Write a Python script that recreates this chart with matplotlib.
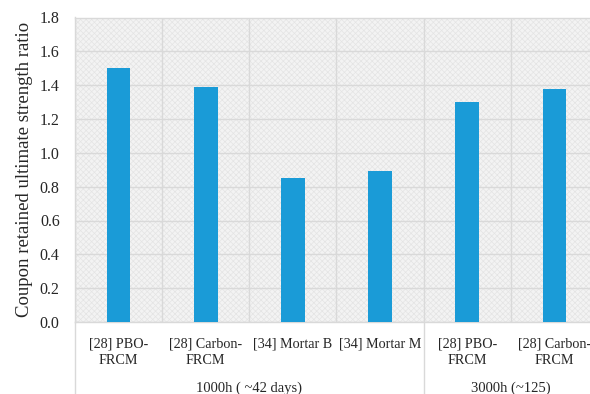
import matplotlib.pyplot as plt
import matplotlib.transforms as mtransforms
from matplotlib.patches import Rectangle
import numpy as np

plt.rcParams['font.family'] = ['Liberation Serif', 'DejaVu Serif']
plt.rcParams['hatch.linewidth'] = 0.5

labels = ['[28] PBO-\nFRCM', '[28] Carbon-\nFRCM', '[34] Mortar B',
          '[34] Mortar M', '[28] PBO-\nFRCM', '[28] Carbon-\nFRCM']
ratio = [1.50, 1.39, 0.85, 0.89, 1.30, 1.38]
groups = ['1000h ( ~42 days)', '3000h (~125)']
group_sizes = [4, 2]
yticks = [0.0, 0.2, 0.4, 0.6, 0.8, 1.0, 1.2, 1.4, 1.6, 1.8]

x = np.arange(len(labels))
grid_c = '#d9d9d9'
text_c = '#262626'

fig = plt.figure(figsize=(5.9, 3.94), dpi=100)
ax = fig.add_axes([75 / 590, 72 / 394, 523 / 590, 304.5 / 394])
ax.set_facecolor('#f3f3f3')
# light dotted background pattern
ax.add_patch(Rectangle((0, 0), 1, 1, transform=ax.transAxes, facecolor='none',
                       edgecolor='#e4e4e4', hatch='xxxxxx', lw=0, zorder=0))

ax.bar(x, ratio, width=0.27, color='#1a9bd7', zorder=3)

ax.set_xlim(-0.5, len(labels) - 0.5)
ax.set_ylim(0, 1.8)
ax.set_yticks(yticks)
ax.set_yticklabels([f'{v:.1f}' for v in yticks], fontsize=11.5, color=text_c)
ax.yaxis.grid(True, color=grid_c, lw=1, zorder=1)
ax.set_xticks(x)
ax.set_xticklabels(labels, fontsize=10.2, color=text_c, linespacing=1.4)
ax.set_xticks(np.arange(len(labels) + 1) - 0.5, minor=True)
ax.xaxis.grid(True, which='minor', color=grid_c, lw=1, zorder=1)
ax.tick_params(axis='both', which='both', length=0)
ax.tick_params(axis='x', pad=11)
ax.tick_params(axis='y', pad=11)
for s in ax.spines.values():
    s.set_color(grid_c)
    s.set_linewidth(1)
ax.set_axisbelow(True)

ax.set_ylabel('Coupon retained ultimate strength ratio', fontsize=13.5,
              color=text_c, labelpad=5)

# group labels and separators below the axis
trans = mtransforms.blended_transform_factory(ax.transData, ax.transAxes)
y_bottom = -72 / 304.5
start = 0
ax.plot([-0.5, -0.5], [0, y_bottom], transform=trans, color=grid_c, lw=1,
        clip_on=False)
for name, n in zip(groups, group_sizes):
    end = start + n
    ax.plot([end - 0.5, end - 0.5], [0, y_bottom], transform=trans,
            color=grid_c, lw=1, clip_on=False)
    ax.text((start + end - 1) / 2, -66 / 304.5, name, transform=trans,
            ha='center', va='center', fontsize=10.5, color=text_c)
    start = end

fig.savefig('out.png', dpi=100)
